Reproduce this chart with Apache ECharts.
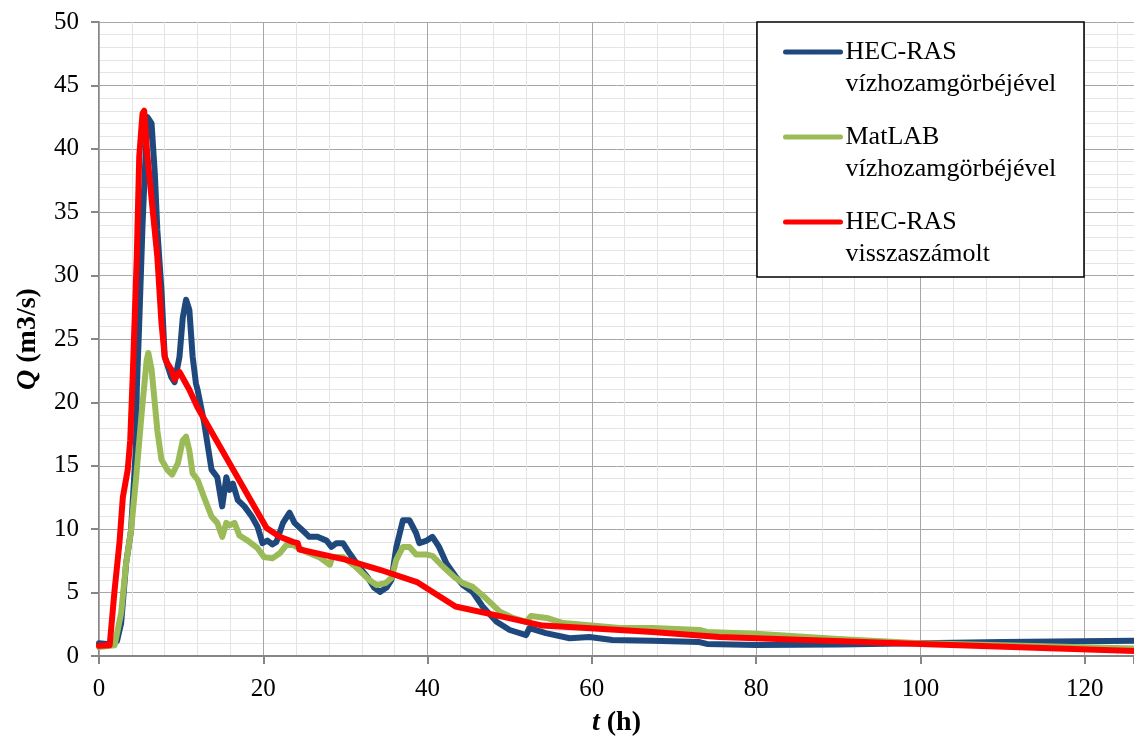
<!DOCTYPE html>
<html>
<head>
<meta charset="utf-8">
<script src="https://cdn.jsdelivr.net/npm/echarts@6/dist/echarts.min.js"></script>
<style>html,body{margin:0;padding:0;background:#fff}#c{width:1134px;height:737px}</style>
</head>
<body>
<div id="c"></div>
<script>
const seriesNames = ['HEC-RAS\nvízhozamgörbéjével', 'MatLAB\nvízhozamgörbéjével', 'HEC-RAS\nvisszaszámolt'];

const blueT = [0,1.6,2.2,2.7,3.3,3.9,4.5,4.6,4.9,5.3,5.6,5.9,6.4,6.8,7.1,7.6,8.0,8.8,9.2,9.8,10.2,10.6,11.0,11.4,11.8,12.0,12.8,13.7,14.4,15.0,15.5,15.9,16.3,16.9,17.7,18.6,19.3,19.9,20.5,21.1,21.6,22.4,23.2,23.8,24.8,25.6,26.6,27.7,28.3,28.9,29.7,30.5,31.7,32.7,33.5,34.2,35.0,35.6,36.2,37.0,37.8,38.6,39.0,39.9,40.6,41.4,42.3,43.5,44.3,45.5,46.7,48.4,50.0,52.0,52.4,54.4,57.3,59.7,62.5,67.4,73.1,74.0,80,90,100,110,126];
const blueQ = [1.0,0.9,1.2,2.6,7.3,9.9,16.5,21,26.3,34,38.5,42.5,42,38,33.6,28.9,23.6,22,21.6,23.6,26.7,28.1,27.3,23.6,21.5,21,18.4,14.7,14.1,11.8,14.1,13.1,13.6,12.3,11.8,11,10.2,8.9,9.1,8.8,9.0,10.5,11.3,10.5,9.9,9.4,9.4,9.1,8.6,8.9,8.9,8.1,7.0,6.2,5.4,5.05,5.4,6.0,8.6,10.7,10.7,9.7,8.9,9.1,9.4,8.6,7.3,6.2,5.6,5.05,3.9,2.7,2.05,1.65,2.2,1.8,1.4,1.5,1.26,1.2,1.1,0.95,0.87,0.9,1.0,1.1,1.2];

const greenT = [0,1.9,2.7,3.3,3.9,4.5,5.2,5.8,6.0,6.4,6.8,7.1,7.6,8.3,8.9,9.6,10.2,10.6,11.0,11.4,12.0,12.8,13.7,14.4,15.0,15.5,15.9,16.5,17.1,18.1,19.3,20.1,21.1,22.0,22.8,23.6,24.4,25.6,26.8,28.1,28.4,29.7,31.3,32.9,33.8,34.9,35.6,36.2,37.0,37.8,38.6,39.9,40.6,41.8,43.3,44.3,45.5,47.1,48.8,50.4,52.0,52.6,54.5,56.5,59.3,63.4,67.4,73.1,74.0,80,90,100,110,126];
const greenQ = [0.7,0.85,3.4,7.3,9.9,13.9,19.2,23.3,23.9,22.6,19.9,17.8,15.5,14.7,14.3,15.2,17.0,17.3,16.2,14.4,13.9,12.5,11,10.5,9.4,10.5,10.3,10.5,9.5,9.1,8.5,7.8,7.7,8.1,8.75,8.75,8.5,8.1,7.8,7.2,7.8,7.8,7.0,6.0,5.6,5.75,6.15,7.6,8.6,8.6,8.0,8.0,7.9,7.1,6.2,5.75,5.45,4.55,3.5,3.0,2.7,3.15,3.0,2.6,2.45,2.2,2.2,2.05,1.9,1.75,1.35,1.0,0.85,0.6];

const redT = [0,1.3,1.9,2.5,2.9,3.5,3.8,4.1,4.6,4.9,5.3,5.5,5.9,6.5,7.1,7.6,8.0,8.3,8.8,9.2,9.8,11,12,20.4,22,23.6,24.2,24.4,30,34.2,38.8,43.4,48.4,54,59.3,67.4,75.5,80,100,126];
const redQ = [0.8,0.85,5.2,9,12.5,14.7,17,22,31.5,39.4,42.8,43,39.4,35.4,31.5,26.3,23.6,23.1,22.6,21.8,22.4,21,19.6,10.1,9.4,9.0,8.9,8.4,7.6,6.8,5.8,3.9,3.2,2.4,2.2,1.9,1.5,1.4,0.95,0.4];

const xTicks = [0,20,40,60,80,100,120];
const yTicks = [0,5,10,15,20,25,30,35,40,45,50];

const colors = ['#1F497D', '#9BBB59', '#FF0000'];
const FONT = "'Liberation Serif', 'Times New Roman', serif";

function zip(t, q){ return t.map((v,i)=>[v,q[i]]); }

const chart = echarts.init(document.getElementById('c'), null, {renderer:'canvas'});
const axisGray = '#868686';
chart.setOption({
  animation: false,
  backgroundColor: '#fff',
  grid: {left: 99, right: 0, top: 22, bottom: 81, containLabel: false, outerBoundsMode: 'none'},
  xAxis: [
    {
      type: 'value', min: 0, max: 126, interval: 4, position: 'top', z: 0,
      axisLine: {show: true, lineStyle: {color: '#000', width: 2}},
      axisTick: {show: false}, axisLabel: {show: false},
      splitLine: {show: true, lineStyle: {color: '#e4e4e4', width: 1}}
    },
    {
      type: 'value', min: 0, max: 126, interval: 20, position: 'bottom', z: 1,
      axisLine: {show: true, onZero: false, lineStyle: {color: axisGray, width: 2}},
      axisTick: {show: true, inside: false, length: 8, lineStyle: {color: axisGray, width: 2}},
      axisLabel: {
        color: '#000', fontFamily: FONT, fontSize: 25, margin: 21,
        formatter: v => xTicks.includes(v) ? String(v) : ''
      },
      splitLine: {show: true, lineStyle: {color: '#a6a6a6', width: 1}},
      name: '{i|t} (h)', nameLocation: 'middle', nameGap: 53,
      nameTextStyle: {
        color: '#000', fontFamily: FONT, fontSize: 28, fontWeight: 'bold',
        rich: {i: {fontFamily: FONT, fontSize: 28, fontWeight: 'bold', fontStyle: 'italic', color: '#000'}}
      }
    }
  ],
  yAxis: {
    type: 'value', min: 0, max: 50, interval: 5,
    axisLine: {show: true, lineStyle: {color: axisGray, width: 2}},
    axisTick: {show: true, inside: false, length: 8, lineStyle: {color: axisGray, width: 2}},
    axisLabel: {color: '#000', fontFamily: FONT, fontSize: 25, margin: 20,
      formatter: v => yTicks.includes(v) ? String(v) : ''},
    splitLine: {show: true, lineStyle: {color: '#a6a6a6', width: 1}},
    minorTick: {show: false, splitNumber: 5},
    minorSplitLine: {show: true, lineStyle: {color: '#e4e4e4', width: 1}},
    name: '{i|Q} (m3/s)', nameLocation: 'middle', nameRotate: 90, nameGap: 57,
    nameTextStyle: {
      color: '#000', fontFamily: FONT, fontSize: 28, fontWeight: 'bold',
      rich: {i: {fontFamily: FONT, fontSize: 28, fontWeight: 'bold', fontStyle: 'italic', color: '#000'}}
    }
  },
  graphic: [{
    type: 'rect', z: 3, silent: true,
    shape: {x: 757, y: 22, width: 327, height: 255},
    style: {fill: '#fff', stroke: '#000', lineWidth: 1.5}
  }],
  legend: {
    z: 5, orient: 'vertical', left: 783, top: 4, padding: 0,
    itemWidth: 55, itemHeight: 5, itemGap: -11,
    data: seriesNames,
    formatter: name => '\n' + name,
    lineStyle: {width: 5, cap: 'round'},
    textStyle: {color: '#000', fontFamily: FONT, fontSize: 26, lineHeight: 32}
  },
  series: [
    {name: seriesNames[0], type: 'line', xAxisIndex: 1, data: zip(blueT, blueQ), symbol: 'none', showSymbol: false,
     lineStyle: {color: colors[0], width: 6, join: 'round', cap: 'round'}, itemStyle: {color: colors[0]}, z: 2},
    {name: seriesNames[1], type: 'line', xAxisIndex: 1, data: zip(greenT, greenQ), symbol: 'none', showSymbol: false,
     lineStyle: {color: colors[1], width: 6, join: 'round', cap: 'round'}, itemStyle: {color: colors[1]}, z: 2},
    {name: seriesNames[2], type: 'line', xAxisIndex: 1, data: zip(redT, redQ), symbol: 'none', showSymbol: false,
     lineStyle: {color: colors[2], width: 6, join: 'round', cap: 'round'}, itemStyle: {color: colors[2]}, z: 2}
  ]
});
</script>
</body>
</html>
